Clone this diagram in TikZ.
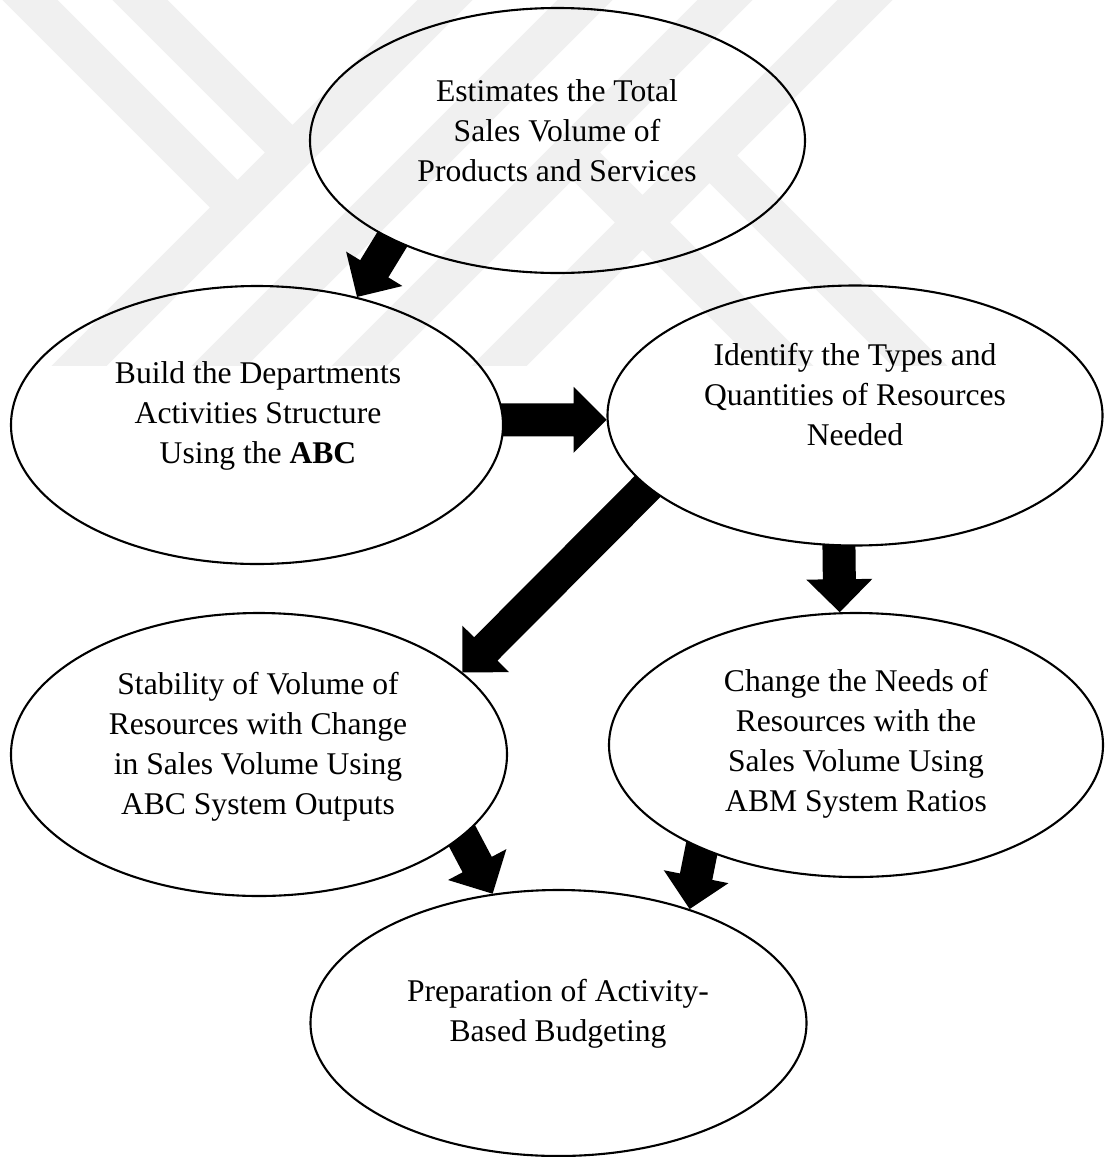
\documentclass[tikz,border=0pt]{standalone}
\usepackage{fontspec}
\setmainfont{Liberation Serif}
\usetikzlibrary{shapes.geometric,calc,backgrounds}
\tikzset{
  ell/.style={draw, ellipse, line width=2.1pt, fill=white, inner sep=0pt},
  lbl/.style={align=center, inner sep=0pt, font=\fontsize{31.6}{40}\selectfont},
  arrowfill/.style={fill=black},
  wmark/.style={fill=black, fill opacity=0.06},
}
% block arrow from anchor #1 (tail, on source border) to anchor #2 (tip)
\newcommand\blockarrow[2]{%
  \path (#1) coordinate (ba0);
  \path (#2) coordinate (bb);
  \path ($(ba0)!-14pt!(bb)$) coordinate (ba);
  \path ($(bb)!33pt!(ba)$) coordinate (bh);
  \fill[arrowfill] ($(ba)!16.5pt!90:(bb)$) -- ($(bh)!16.5pt!90:(bb)$)
    -- ($(bh)!33pt!90:(bb)$) -- (bb) -- ($(bh)!33pt!-90:(bb)$)
    -- ($(bh)!16.5pt!-90:(bb)$) -- ($(ba)!16.5pt!-90:(bb)$) -- cycle;
}
% watermark stripe from #1 to #2
\newcommand\wstripe[2]{%
  ($(#1)!19.5pt!90:(#2)$) -- ($(#2)!19.5pt!-90:(#1)$) --
  ($(#2)!19.5pt!90:(#1)$) -- ($(#1)!19.5pt!-90:(#2)$) -- cycle
}
\begin{document}
\begin{tikzpicture}[x=1pt,y=-1pt]
\useasboundingbox (0,0) rectangle (1105,1157);

% ellipses
\node[ell, minimum width=495pt, minimum height=265pt] (e1) at (557.5,140.5) {};
\node[ell, minimum width=492pt, minimum height=278pt] (e2) at (257,425) {};
\node[ell, minimum width=495pt, minimum height=260pt] (e3) at (855,415.5) {};
\node[ell, minimum width=496pt, minimum height=283pt] (e4) at (259,754.5) {};
\node[ell, minimum width=494pt, minimum height=264pt] (e5) at (856,745) {};
\node[ell, minimum width=496pt, minimum height=266pt] (e6) at (558.5,1023) {};

% texts
\node[lbl] (t1) at (557,131) {Estimates the Total\\Sales Volume of\\Products and Services};
\node[lbl] (t2) at (258,416) {Build the Departments\\Activities Structure\\Using the \textbf{ABC}};
\node[lbl] (t3) at (855,395) {Identify the Types and\\Quantities of Resources\\Needed};
\node[lbl] (t4) at (258,747) {Stability of Volume of\\Resources with Change\\in Sales Volume Using\\ABC System Outputs};
\node[lbl] (t5) at (856,744) {Change the Needs of\\Resources with the\\Sales Volume Using\\ABM System Ratios};
\node[lbl] (t6) at (558,1014) {Preparation of Activity-\\Based Budgeting};

% block arrows
\coordinate (a2tip) at (e3.181.5);
\coordinate (a2tail) at (e2.east |- a2tip);
\begin{pgfonlayer}{background}
  \blockarrow{e1.211}{e2.52}
  \blockarrow{a2tail}{a2tip}
  \blockarrow{e3.199}{e4.22}
  \blockarrow{e3.263.4}{e5.97}
  \blockarrow{e4.338}{e6.117}
  \blockarrow{e5.214.6}{e6.41}
\end{pgfonlayer}

% faint watermark
\begin{scope}
  \clip (0,0) rectangle (1105,365);
  \fill[wmark]
    \wstripe{485,-40}{45,400}
    \wstripe{625,-40}{185,400}
    \wstripe{765,-40}{325,400}
    \wstripe{905,-40}{465,400}
    \wstripe{-10,-40}{251.3,221.3}
    \wstripe{100,-40}{306.3,166.3}
    \wstripe{558.7,138.7}{820,400}
    \wstripe{695.7,141.7}{954,400};
\end{scope}
\end{tikzpicture}
\end{document}
